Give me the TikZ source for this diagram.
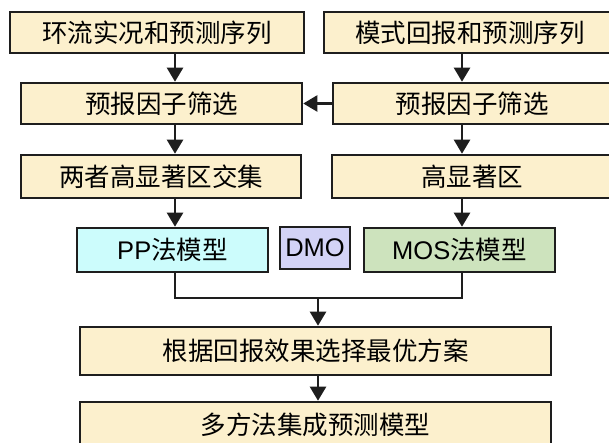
\documentclass[tikz,border=0pt]{standalone}
\usepackage{fontspec}
\setmainfont{Liberation Sans}
\newfontfamily\cjk{Noto Sans CJK SC}
\usetikzlibrary{arrows.meta}
\definecolor{beige}{HTML}{FCF0CD}
\definecolor{ppcol}{HTML}{CCFCFC}
\definecolor{dmocol}{HTML}{D3D3F6}
\definecolor{moscol}{HTML}{CDE3BD}
\definecolor{edge}{HTML}{1E1E1E}
\tikzset{
  box/.style={draw=edge, line width=2.6pt, fill=beige, rectangle, inner sep=0pt,
    font=\fontsize{25.5}{29}\selectfont\cjk},
  conn/.style={draw=edge, line width=2.4pt},
  arr/.style={conn, -{Triangle[length=14pt,width=16pt]}},
}
\begin{document}
\begin{tikzpicture}[x=1pt,y=-1pt]
\useasboundingbox (0,0) rectangle (609,443);
\fill[white] (0,0) rectangle (609,443);
\clip (0,0) rectangle (609,443);
% column coordinates
\coordinate (colL) at (175,0);
\coordinate (colR) at (462,0);
\coordinate (colM) at (318,0);
% row 1
\node[box, minimum width=294pt, minimum height=41pt] (a1) at (157,32.5) {环流实况和预测序列};
\node[box, minimum width=292pt, minimum height=41pt] (b1) at (470,32.5) {模式回报和预测序列};
% row 2
\node[box, minimum width=281pt, minimum height=41pt] (a2) at (161.5,103.5) {预报因子筛选};
\node[box, minimum width=278pt, minimum height=41pt] (b2) at (472,103.5) {预报因子筛选};
% row 3
\node[box, minimum width=280pt, minimum height=43pt] (a3) at (161,176.5) {两者高显著区交集};
\node[box, minimum width=280pt, minimum height=43pt] (b3) at (472,176.5) {高显著区};
% row 4
\node[box, fill=ppcol, minimum width=191pt, minimum height=44pt] (pp) at (172.5,250) {{\rmfamily PP}法模型};
\node[box, fill=dmocol, minimum width=70pt, minimum height=42pt, font=\fontsize{25.5}{29}\selectfont\rmfamily] (dmo) at (315,248) {DMO};
\node[box, fill=moscol, minimum width=191pt, minimum height=44pt] (mos) at (459.5,250) {{\rmfamily MOS}法模型};
% row 5, 6
\node[box, minimum width=471pt, minimum height=48pt] (c5) at (315.5,351) {根据回报效果选择最优方案};
\node[box, minimum width=471pt, minimum height=46pt] (c6) at (315.5,425) {多方法集成预测模型};
% connectors
\draw[arr] (a1.south -| colL) -- (a2.north -| colL);
\draw[arr] (a2.south -| colL) -- (a3.north -| colL);
\draw[arr] (a3.south -| colL) -- (pp.north -| colL);
\draw[arr] (b1.south -| colR) -- (b2.north -| colR);
\draw[arr] (b2.south -| colR) -- (b3.north -| colR);
\draw[arr] (b3.south -| colR) -- (mos.north -| colR);
\draw[arr] (b2.west) -- (a2.east);
\coordinate (join) at (318,298);
\draw[conn] (pp.south -| colL) |- (join) -| (mos.south -| colR);
\draw[arr] (join) -- (c5.north -| colM);
\draw[arr] (c5.south -| colM) -- (c6.north -| colM);
\end{tikzpicture}
\end{document}
